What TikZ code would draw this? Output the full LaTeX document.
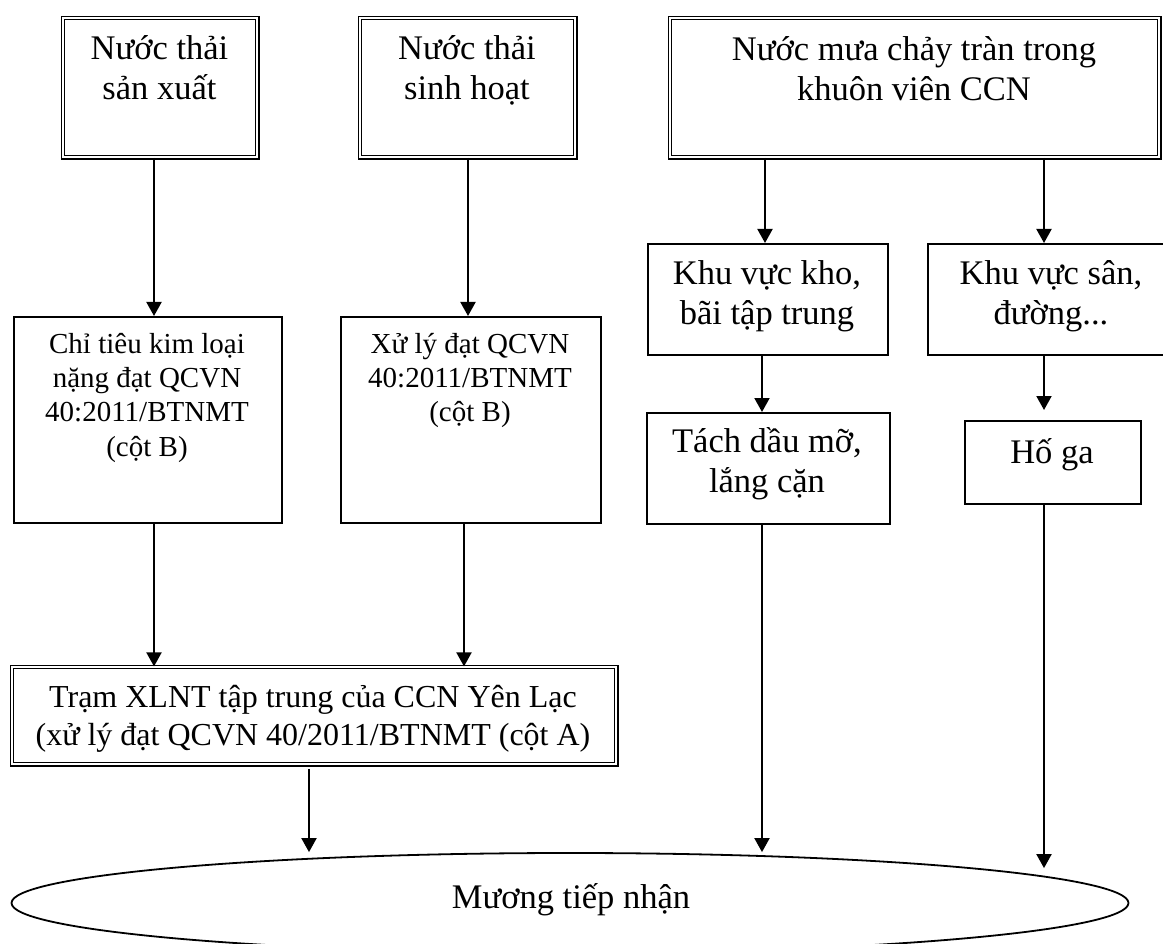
\documentclass[tikz,border=0pt]{standalone}
\usepackage{fontspec}
\setmainfont{Liberation Serif}
\usetikzlibrary{arrows.meta,shapes.geometric}
\newcommand\mlt[1]{\parbox[t]{640pt}{\lineskiplimit=-100pt\centering #1}}
\begin{document}
\begin{tikzpicture}[x=1pt,y=-1pt,
  bigtxt/.style={font=\fontsize{34.5}{40}\selectfont, inner sep=0pt, anchor=base},
  midtxt/.style={font=\fontsize{29}{34.5}\selectfont, inner sep=0pt, anchor=base},
  dbox/.style={draw, double, double distance=2.4pt, line width=1.2pt, rectangle, inner sep=0pt, anchor=north west},
  sbox/.style={draw, line width=1.8pt, rectangle, inner sep=0pt, anchor=north west},
  flow/.style={line width=2pt, -{Triangle[width=15pt,length=14pt]}},
  link/.style={line width=2pt}
]
\useasboundingbox (0,0) rectangle (1163,944);
\clip (0,0) rectangle (1163,944);
\fill[white] (0,0) rectangle (1163,944);

% top double boxes
\node[dbox, minimum width=194.2pt, minimum height=139.2pt] (b1) at (62.4,17.4) {};
\node[dbox, minimum width=215.2pt, minimum height=139.2pt] (b2) at (359.4,17.4) {};
\node[dbox, minimum width=489.2pt, minimum height=139.2pt] (b3) at (669.4,17.4) {};
\node[bigtxt] (t1) at (159.5,60) {\mlt{Nước thải\\sản xuất}};
\node[bigtxt] (t2) at (467,60) {\mlt{Nước thải\\sinh hoạt}};
\node[bigtxt] (t3) at (914,61) {\mlt{Nước mưa chảy tràn trong\\khuôn viên CCN}};

% middle left boxes
\node[sbox, minimum width=268pt, minimum height=206pt] (c1) at (13,316) {};
\node[sbox, minimum width=260pt, minimum height=206pt] (c2) at (340,316) {};
\node[midtxt] (tc1) at (147,353) {\mlt{Chỉ tiêu kim loại\\nặng đạt QCVN\\40:2011/BTNMT\\(cột B)}};
\node[midtxt] (tc2) at (470,353) {\mlt{Xử lý đạt QCVN\\40:2011/BTNMT\\(cột B)}};

% middle right boxes
\node[sbox, minimum width=240pt, minimum height=111pt] (k1) at (647,243) {};
\node[sbox, minimum width=248pt, minimum height=111pt] (k2) at (927,243) {};
\node[sbox, minimum width=243pt, minimum height=111pt] (d1) at (646,412) {};
\node[sbox, minimum width=176pt, minimum height=83pt] (d2) at (964,420) {};
\node[bigtxt] (tk1) at (767,285) {\mlt{Khu vực kho,\\bãi tập trung}};
\node[bigtxt] (tk2) at (1051,285) {\mlt{Khu vực sân,\\đường...}};
\node[bigtxt] (td1) at (767,452) {\mlt{Tách dầu mỡ,\\lắng cặn}};
\node[bigtxt] (td2) at (1052,463) {Hố ga};

% treatment station
\node[dbox, minimum width=604.2pt, minimum height=97.2pt] (tr) at (11.4,666.4) {};
\node[bigtxt, font=\fontsize{32}{38}\selectfont] (ttr) at (313,707) {\mlt{Trạm XLNT tập trung của CCN Yên Lạc\\(xử lý đạt QCVN 40/2011/BTNMT (cột A)}};

% receiving ditch
\node[draw, ellipse, line width=1.8pt, minimum width=1117pt, minimum height=100pt, inner sep=0pt] (el) at (570,903) {};
\node[bigtxt] (tel) at (571,908) {Mương tiếp nhận};

% x positions of connectors
\coordinate (xa) at (154,0);
\coordinate (xb) at (468,0);
\coordinate (xc) at (154,0);
\coordinate (xd) at (464,0);
\coordinate (xe) at (765,0);
\coordinate (xf) at (1044,0);
\coordinate (xg) at (762,0);
\coordinate (xh) at (309,0);

% connectors
\draw[flow] (b1.south -| xa) -- (c1.north -| xa);
\draw[flow] (b2.south -| xb) -- (c2.north -| xb);
\draw[flow] (c1.south -| xc) -- (tr.north -| xc);
\draw[flow] (c2.south -| xd) -- (tr.north -| xd);
\draw[flow] (b3.south -| xe) -- (k1.north -| xe);
\draw[flow] (b3.south -| xf) -- (k2.north -| xf);
\draw[flow] (k1.south -| xg) -- (d1.north -| xg);
\draw[flow, shorten >=10pt] (k2.south -| xf) -- (d2.north -| xf);
\draw[flow, shorten <=4pt] (tr.south -| xh) -- (el.north -| xh);
\draw[flow] (d1.south -| xg) -- (el.north -| xg);
\draw[flow] (d2.south -| xf) -- ([yshift=-16pt]el.north -| xf);
\end{tikzpicture}
\end{document}
